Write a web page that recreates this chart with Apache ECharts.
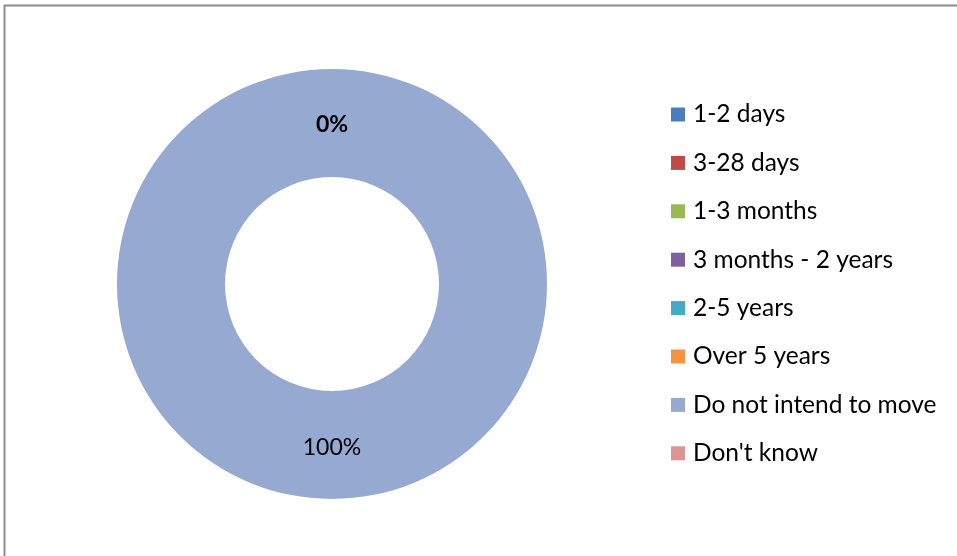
<!DOCTYPE html>
<html>
<head>
<meta charset="utf-8">
<script src="https://cdn.jsdelivr.net/npm/echarts@6/dist/echarts.min.js"></script>
<style>
html,body{margin:0;padding:0;background:#fff;}
#c{width:957px;height:556px;}
</style>
</head>
<body>
<div id="c"></div>
<script>
const categories = ["1-2 days","3-28 days","1-3 months","3 months - 2 years","2-5 years","Over 5 years","Do not intend to move","Don't know"];
const values = [0,0,0,0,0,0,100,0];
const colors = ["#4A7EBB","#BE4B48","#98B954","#7D60A0","#46AAC5","#F69240","#95A9D1","#D99694"];

const chart = echarts.init(document.getElementById('c'));
const FONT = 'Lato, "Open Sans", sans-serif';
chart.setOption({
  animation:false,
  color: colors,
  graphic:[{
    type:'rect', silent:true, z:-10,
    shape:{x:4.5,y:5.5,width:1000,height:600},
    style:{fill:'#fff',stroke:'#8c8c8c',lineWidth:2}
  }],
  legend:{
    orient:'vertical',
    left:671, top:102, padding:0,
    itemWidth:14, itemHeight:14,
    itemGap:23.4,
    icon:'rect',
    textStyle:{fontFamily:FONT,fontSize:24.5,color:'#000',lineHeight:24,padding:[0,0,0,3]},
    data:categories
  },
  series:[{
    type:'pie',
    center:[332,284],
    radius:[107,215],
    startAngle:90,
    clockwise:true,
    avoidLabelOverlap:false,
    stillShowZeroSum:true,
    label:{
      show:true,
      position:'inside',
      formatter:function(p){return Math.round(p.percent)+'%';},
      fontFamily:FONT,fontSize:23,color:'#000'
    },
    labelLine:{show:false},
    emphasis:{disabled:true},
    itemStyle:{borderWidth:0},
    data:categories.map((n,i)=>({name:n,value:values[i],
      label: values[i]===0 ? {fontWeight:'bold', offset:[0,5]} : {}}))
  }]
});
</script>
</body>
</html>
